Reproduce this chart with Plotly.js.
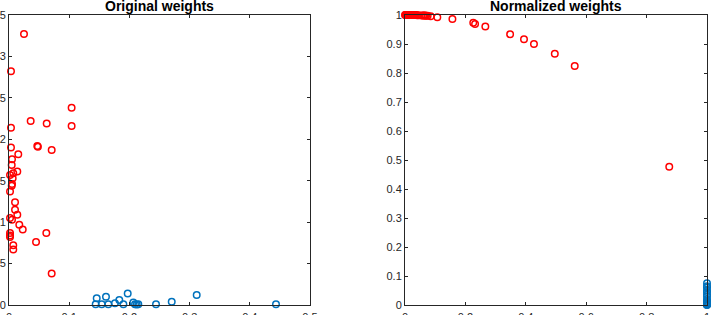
<!DOCTYPE html>
<html>
<head>
<meta charset="utf-8">
<script src="https://cdn.plot.ly/plotly-3.0.1.min.js"></script>
<style>html,body{margin:0;padding:0;background:#fff;}#chart{width:721px;height:315px;}</style>
</head>
<body>
<div id="chart"></div>
<script>
// Original weights, class 1 (red)
const origRedX = [0.0249,0.0033,0.0033,0.036,0.0626,0.104,0.104,0.0033,0.047,0.048,0.0709,0.0154,0.005,0.0045,0.0138,0.0071,0.0017,0.0061,0.005,0.0045,0.0017,0.01,0.01,0.0138,0.0017,0.005,0.0171,0.0228,0.0017,0.0017,0.0017,0.0071,0.0071,0.0449,0.062,0.0709];
const origRedY = [3.27,2.82,2.14,2.22,2.19,2.38,2.16,1.90,1.92,1.91,1.87,1.82,1.76,1.69,1.61,1.59,1.57,1.53,1.46,1.44,1.37,1.24,1.15,1.09,1.05,1.03,0.97,0.91,0.87,0.84,0.82,0.72,0.67,0.76,0.87,0.38];
// Original weights, class 2 (blue)
const origBlueX = [0.1457,0.1611,0.1972,0.1832,0.3118,0.2703,0.144,0.154,0.165,0.176,0.19,0.2065,0.2093,0.2121,0.2148,0.2442,0.4435];
const origBlueY = [0.08,0.10,0.14,0.06,0.12,0.04,0.01,0.01,0.01,0.02,0.01,0.03,0.01,0.005,0.01,0.01,0.01];
// Normalized weights, class 1 (red)
const normRedX = [0,0.002,0.004,0.006,0.008,0.01,0.012,0.015,0.018,0.02,0.022,0.025,0.028,0.03,0.033,0.036,0.04,0.045,0.055,0.06,0.063,0.067,0.07,0.075,0.085,0.107,0.157,0.226,0.232,0.266,0.348,0.394,0.427,0.496,0.562,0.875];
const normRedY = [1,1,1,1,1,1,1,1,1,1,1,1,1,1,1,1,0.999,0.999,0.998,0.998,0.998,0.998,0.997,0.997,0.996,0.992,0.986,0.973,0.969,0.96,0.934,0.916,0.9,0.866,0.824,0.477];
// Normalized weights, class 2 (blue)
const normBlueX = [1,1,1,1,1,1,1,1,1,1,1,1,1,1,1,1,1];
const normBlueY = [0.075,0.065,0.06,0.05,0.045,0.035,0.03,0.02,0.015,0.01,0.008,0.005,0.004,0.003,0.002,0.001,0];

const titles = ['Original weights','Normalized weights'];
const leftXTicks = [0,0.1,0.2,0.3,0.4,0.5];
const leftYTicks = [0,0.5,1,1.5,2,2.5,3,3.5];
const rightXTicks = [0,0.2,0.4,0.6,0.8,1];
const rightYTicks = [0,0.1,0.2,0.3,0.4,0.5,0.6,0.7,0.8,0.9,1];

const RED = '#FF0000', BLUE = '#0072BD', AX = '#262626';
function mk(x, y, c, xa, ya) {
  return {x, y, xaxis: xa, yaxis: ya, type: 'scatter', mode: 'markers', cliponaxis: false,
    marker: {symbol: 'circle-open', size: 6.5, color: c, line: {width: 1.5, color: c}}, hoverinfo: 'none'};
}
const data = [
  mk(origRedX, origRedY, RED, 'x', 'y'),
  mk(origBlueX, origBlueY, BLUE, 'x', 'y'),
  mk(normRedX, normRedY, RED, 'x2', 'y2'),
  mk(normBlueX, normBlueY, BLUE, 'x2', 'y2')
];
const FONT = 'Liberation Sans, Arial, sans-serif';
const axBase = {showline: true, mirror: 'ticks', linecolor: AX, linewidth: 1, ticks: 'inside', ticklen: 3,
  tickcolor: AX, tickwidth: 1, showgrid: false, zeroline: false, tickfont: {family: FONT, size: 11, color: AX}, automargin: false, fixedrange: true};
const xBase = Object.assign({}, axBase, {ticklabelstandoff: 2});
const W = 721;
const layout = {
  width: 721, height: 315,
  margin: {l: 0, r: 0, t: 15, b: 10, pad: 0},
  paper_bgcolor: '#fff', plot_bgcolor: '#fff', showlegend: false,
  xaxis: Object.assign({}, xBase, {domain: [9/W, 310/W], range: [0, 0.5], tickvals: leftXTicks, anchor: 'y'}),
  yaxis: Object.assign({}, axBase, {range: [0, 3.5], tickvals: leftYTicks, anchor: 'x'}),
  xaxis2: Object.assign({}, xBase, {domain: [405/W, 707/W], range: [0, 1], tickvals: rightXTicks, anchor: 'y2'}),
  yaxis2: Object.assign({}, axBase, {range: [0, 1], tickvals: rightYTicks, anchor: 'x2'}),
  annotations: [
    {text: '<b>' + titles[0] + '</b>', xref: 'x domain', yref: 'paper', x: 0.5, y: 1, yshift: -1, xanchor: 'center', yanchor: 'bottom', showarrow: false, font: {family: FONT, size: 14, color: '#000'}},
    {text: '<b>' + titles[1] + '</b>', xref: 'x2 domain', yref: 'paper', x: 0.5, y: 1, yshift: -1, xanchor: 'center', yanchor: 'bottom', showarrow: false, font: {family: FONT, size: 14, color: '#000'}}
  ]
};
Plotly.newPlot('chart', data, layout, {staticPlot: true, displayModeBar: false});
</script>
</body>
</html>
